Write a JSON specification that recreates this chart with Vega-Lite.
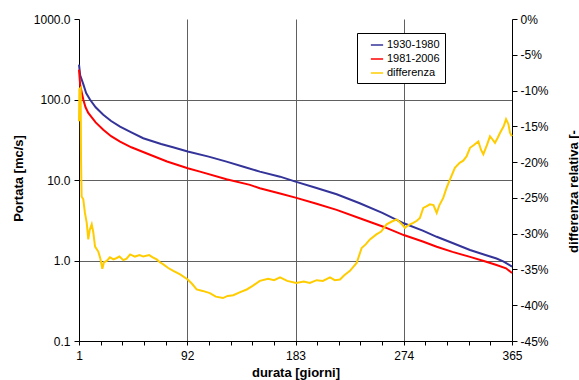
{
  "$schema": "https://vega.github.io/schema/vega-lite/v6.json",
  "width": 433,
  "height": 322,
  "autosize": {"type": "none"},
  "padding": {"left": 79, "top": 19, "right": 67, "bottom": 39},
  "background": "white",
  "config": {
    "font": "Liberation Sans",
    "view": {"stroke": null},
    "axis": {
      "labelFont": "Liberation Sans",
      "titleFont": "Liberation Sans",
      "labelFontSize": 12,
      "labelColor": "black",
      "titleColor": "black",
      "titleFontSize": 13,
      "titleFontWeight": "bold",
      "domainColor": "black",
      "tickColor": "black",
      "gridColor": "#606060",
      "gridWidth": 1
    },
    "legend": {"labelFont": "Liberation Sans"}
  },
  "layer": [
    {
      "data": {
        "values": [
          {"d": 1, "serie": "1930-1980", "v": 271},
          {"d": 2, "serie": "1930-1980", "v": 200},
          {"d": 4.6, "serie": "1930-1980", "v": 155},
          {"d": 7, "serie": "1930-1980", "v": 120},
          {"d": 10.2, "serie": "1930-1980", "v": 100},
          {"d": 15, "serie": "1930-1980", "v": 80},
          {"d": 21.4, "serie": "1930-1980", "v": 64.7},
          {"d": 28, "serie": "1930-1980", "v": 54},
          {"d": 35.5, "serie": "1930-1980", "v": 46},
          {"d": 45, "serie": "1930-1980", "v": 39},
          {"d": 55, "serie": "1930-1980", "v": 33},
          {"d": 70, "serie": "1930-1980", "v": 28},
          {"d": 80, "serie": "1930-1980", "v": 25.5},
          {"d": 92.4, "serie": "1930-1980", "v": 22.6},
          {"d": 110, "serie": "1930-1980", "v": 19.5},
          {"d": 125, "serie": "1930-1980", "v": 16.9},
          {"d": 140, "serie": "1930-1980", "v": 14.5},
          {"d": 153, "serie": "1930-1980", "v": 12.7},
          {"d": 170, "serie": "1930-1980", "v": 11},
          {"d": 183, "serie": "1930-1980", "v": 9.55},
          {"d": 200, "serie": "1930-1980", "v": 8.0},
          {"d": 217.6, "serie": "1930-1980", "v": 6.65},
          {"d": 237, "serie": "1930-1980", "v": 5.14},
          {"d": 256, "serie": "1930-1980", "v": 3.9},
          {"d": 274, "serie": "1930-1980", "v": 2.9},
          {"d": 290, "serie": "1930-1980", "v": 2.35},
          {"d": 301.7, "serie": "1930-1980", "v": 1.97},
          {"d": 315, "serie": "1930-1980", "v": 1.65},
          {"d": 329.7, "serie": "1930-1980", "v": 1.35},
          {"d": 342, "serie": "1930-1980", "v": 1.18},
          {"d": 352, "serie": "1930-1980", "v": 1.06},
          {"d": 358, "serie": "1930-1980", "v": 0.97},
          {"d": 365, "serie": "1930-1980", "v": 0.84},
          {"d": 1, "serie": "1981-2006", "v": 235},
          {"d": 2, "serie": "1981-2006", "v": 150},
          {"d": 4.6, "serie": "1981-2006", "v": 100},
          {"d": 6.5, "serie": "1981-2006", "v": 80},
          {"d": 8.8, "serie": "1981-2006", "v": 68},
          {"d": 15, "serie": "1981-2006", "v": 52},
          {"d": 21.4, "serie": "1981-2006", "v": 42},
          {"d": 28, "serie": "1981-2006", "v": 35},
          {"d": 35.5, "serie": "1981-2006", "v": 30},
          {"d": 45, "serie": "1981-2006", "v": 25.5},
          {"d": 60.7, "serie": "1981-2006", "v": 20.6},
          {"d": 75, "serie": "1981-2006", "v": 17},
          {"d": 92.4, "serie": "1981-2006", "v": 14},
          {"d": 102.7, "serie": "1981-2006", "v": 12.7},
          {"d": 125, "serie": "1981-2006", "v": 10.2},
          {"d": 144.7, "serie": "1981-2006", "v": 8.7},
          {"d": 153, "serie": "1981-2006", "v": 7.9},
          {"d": 170, "serie": "1981-2006", "v": 6.8},
          {"d": 183, "serie": "1981-2006", "v": 6.04},
          {"d": 200, "serie": "1981-2006", "v": 5.1},
          {"d": 217.6, "serie": "1981-2006", "v": 4.25},
          {"d": 237, "serie": "1981-2006", "v": 3.35},
          {"d": 256.8, "serie": "1981-2006", "v": 2.63},
          {"d": 274, "serie": "1981-2006", "v": 2.07},
          {"d": 290, "serie": "1981-2006", "v": 1.72},
          {"d": 301.7, "serie": "1981-2006", "v": 1.48},
          {"d": 315, "serie": "1981-2006", "v": 1.28},
          {"d": 329.7, "serie": "1981-2006", "v": 1.11},
          {"d": 342, "serie": "1981-2006", "v": 0.98},
          {"d": 352, "serie": "1981-2006", "v": 0.88},
          {"d": 360, "serie": "1981-2006", "v": 0.8},
          {"d": 365, "serie": "1981-2006", "v": 0.7}
        ]
      },
      "mark": {"type": "line", "strokeWidth": 2},
      "encoding": {
        "x": {
          "field": "d",
          "type": "quantitative",
          "scale": {"domain": [1, 365], "nice": false, "zero": false},
          "axis": {
            "title": "durata [giorni]",
            "values": [1, 19.2, 37.4, 55.6, 73.8, 92, 110.2, 128.4, 146.6, 164.8, 183, 201.2, 219.4, 237.6, 255.8, 274, 292.2, 310.4, 328.6, 346.8, 365],
            "tickCount": 40,
            "labelExpr": "(abs(datum.value-1)<0.5 || abs(datum.value-92)<0.5 || abs(datum.value-183)<0.5 || abs(datum.value-274)<0.5 || abs(datum.value-365)<0.5) ? datum.label : ''",
            "format": "d",
            "tickSize": 4,
            "labelPadding": 5,
            "labelFlush": false,
            "labelOverlap": false,
            "titleY": 35,
            "titleBaseline": "alphabetic",
            "grid": true,
            "gridOpacity": {"condition": {"test": "abs(datum.value-92)<0.5 || abs(datum.value-183)<0.5 || abs(datum.value-274)<0.5", "value": 1}, "value": 0}
          }
        },
        "y": {
          "field": "v",
          "type": "quantitative",
          "scale": {"type": "log", "domain": [0.1, 1000], "nice": false},
          "axis": {
            "title": "Portata [mc/s]",
            "values": [0.1, 1, 10, 100, 1000],
            "tickCount": 20,
            "format": ".1f",
            "tickSize": 5,
            "labelPadding": 4,
            "labelFlush": false,
            "labelOverlap": false,
            "grid": true,
            "gridOpacity": {"condition": {"test": "datum.value > 500 || datum.value < 0.5", "value": 0}, "value": 1},
            "titleAngle": 270,
            "titleX": -61,
            "titleY": 159,
            "titleAlign": "center",
            "titleBaseline": "middle"
          }
        },
        "color": {
          "field": "serie",
          "type": "nominal",
          "scale": {"domain": ["1930-1980", "1981-2006", "differenza"], "range": ["#333399", "#ff0000", "#ffcc00"]},
          "legend": {
            "title": null,
            "orient": "none",
            "legendX": 278,
            "legendY": 14,
            "direction": "vertical",
            "strokeColor": "black",
            "fillColor": "white",
            "padding": 5,
            "symbolType": "stroke",
            "symbolSize": 150,
            "symbolStrokeWidth": 1.5,
            "symbolOffset": 8,
            "labelFontSize": 11,
            "labelColor": "black",
            "labelOffset": 3,
            "rowPadding": 2
          }
        }
      }
    },
    {
      "data": {
        "values": [
          {"d": 1, "serie": "differenza", "p": -14.3},
          {"d": 1.3, "serie": "differenza", "p": -9.8},
          {"d": 2.4, "serie": "differenza", "p": -9.6},
          {"d": 2.7, "serie": "differenza", "p": -19.6},
          {"d": 3.2, "serie": "differenza", "p": -24.8},
          {"d": 4.6, "serie": "differenza", "p": -25.2},
          {"d": 6, "serie": "differenza", "p": -27.1},
          {"d": 7.5, "serie": "differenza", "p": -28.5},
          {"d": 8.8, "serie": "differenza", "p": -30.8},
          {"d": 10, "serie": "differenza", "p": -29.5},
          {"d": 11.7, "serie": "differenza", "p": -28.7},
          {"d": 13, "serie": "differenza", "p": -29.8},
          {"d": 14.5, "serie": "differenza", "p": -31.8},
          {"d": 17.2, "serie": "differenza", "p": -32.5},
          {"d": 19, "serie": "differenza", "p": -33.5},
          {"d": 20.6, "serie": "differenza", "p": -34.9},
          {"d": 22, "serie": "differenza", "p": -34.0},
          {"d": 24.3, "serie": "differenza", "p": -33.8},
          {"d": 27, "serie": "differenza", "p": -33.3},
          {"d": 30, "serie": "differenza", "p": -33.6},
          {"d": 32.7, "serie": "differenza", "p": -33.4},
          {"d": 35, "serie": "differenza", "p": -33.2},
          {"d": 38.3, "serie": "differenza", "p": -33.7},
          {"d": 41, "serie": "differenza", "p": -33.5},
          {"d": 44, "serie": "differenza", "p": -32.9},
          {"d": 48, "serie": "differenza", "p": -33.2},
          {"d": 52, "serie": "differenza", "p": -33.0},
          {"d": 55, "serie": "differenza", "p": -33.2},
          {"d": 60, "serie": "differenza", "p": -33.0},
          {"d": 63, "serie": "differenza", "p": -33.3},
          {"d": 66.3, "serie": "differenza", "p": -33.6},
          {"d": 69, "serie": "differenza", "p": -34.0},
          {"d": 71.9, "serie": "differenza", "p": -34.3},
          {"d": 76, "serie": "differenza", "p": -34.8},
          {"d": 80.3, "serie": "differenza", "p": -35.2},
          {"d": 86, "serie": "differenza", "p": -35.7},
          {"d": 92.4, "serie": "differenza", "p": -36.4},
          {"d": 96, "serie": "differenza", "p": -37.0},
          {"d": 99.9, "serie": "differenza", "p": -37.8},
          {"d": 105, "serie": "differenza", "p": -38.0},
          {"d": 111, "serie": "differenza", "p": -38.3},
          {"d": 116, "serie": "differenza", "p": -38.8},
          {"d": 122, "serie": "differenza", "p": -39.0},
          {"d": 126, "serie": "differenza", "p": -38.7},
          {"d": 130.7, "serie": "differenza", "p": -38.6},
          {"d": 136, "serie": "differenza", "p": -38.2},
          {"d": 142, "serie": "differenza", "p": -37.8},
          {"d": 147, "serie": "differenza", "p": -37.3},
          {"d": 153, "serie": "differenza", "p": -36.6},
          {"d": 160, "serie": "differenza", "p": -36.3},
          {"d": 165, "serie": "differenza", "p": -36.5},
          {"d": 170, "serie": "differenza", "p": -36.1},
          {"d": 176, "serie": "differenza", "p": -36.6},
          {"d": 183.6, "serie": "differenza", "p": -36.9},
          {"d": 190, "serie": "differenza", "p": -36.7},
          {"d": 195, "serie": "differenza", "p": -36.9},
          {"d": 200.8, "serie": "differenza", "p": -36.5},
          {"d": 206, "serie": "differenza", "p": -36.6},
          {"d": 212, "serie": "differenza", "p": -36.1},
          {"d": 216, "serie": "differenza", "p": -36.5},
          {"d": 220.4, "serie": "differenza", "p": -36.4},
          {"d": 224, "serie": "differenza", "p": -35.8},
          {"d": 228.8, "serie": "differenza", "p": -35.2},
          {"d": 234.4, "serie": "differenza", "p": -34.1},
          {"d": 238.6, "serie": "differenza", "p": -32.0},
          {"d": 242, "serie": "differenza", "p": -31.5},
          {"d": 245.6, "serie": "differenza", "p": -30.8},
          {"d": 251, "serie": "differenza", "p": -30.1},
          {"d": 255, "serie": "differenza", "p": -29.7},
          {"d": 259.6, "serie": "differenza", "p": -28.7},
          {"d": 264, "serie": "differenza", "p": -28.3},
          {"d": 268, "serie": "differenza", "p": -28.0},
          {"d": 272, "serie": "differenza", "p": -28.6},
          {"d": 275, "serie": "differenza", "p": -29.2},
          {"d": 278, "serie": "differenza", "p": -28.8},
          {"d": 282, "serie": "differenza", "p": -28.5},
          {"d": 285, "serie": "differenza", "p": -28.2},
          {"d": 287.6, "serie": "differenza", "p": -27.8},
          {"d": 290.4, "serie": "differenza", "p": -26.4},
          {"d": 293, "serie": "differenza", "p": -26.2},
          {"d": 296, "serie": "differenza", "p": -25.9},
          {"d": 299, "serie": "differenza", "p": -26.0},
          {"d": 301.7, "serie": "differenza", "p": -27.1},
          {"d": 304, "serie": "differenza", "p": -26.0},
          {"d": 307.2, "serie": "differenza", "p": -25.0},
          {"d": 310, "serie": "differenza", "p": -23.6},
          {"d": 312.9, "serie": "differenza", "p": -22.4},
          {"d": 317, "serie": "differenza", "p": -20.8},
          {"d": 321, "serie": "differenza", "p": -20.1},
          {"d": 324, "serie": "differenza", "p": -19.8},
          {"d": 326.8, "serie": "differenza", "p": -19.2},
          {"d": 329.7, "serie": "differenza", "p": -18.0},
          {"d": 333, "serie": "differenza", "p": -17.6},
          {"d": 336.7, "serie": "differenza", "p": -17.1},
          {"d": 339, "serie": "differenza", "p": -18.3},
          {"d": 340.9, "serie": "differenza", "p": -18.9},
          {"d": 344, "serie": "differenza", "p": -17.6},
          {"d": 346.5, "serie": "differenza", "p": -16.4},
          {"d": 348, "serie": "differenza", "p": -16.7},
          {"d": 350.7, "serie": "differenza", "p": -17.3},
          {"d": 353, "serie": "differenza", "p": -16.6},
          {"d": 355, "serie": "differenza", "p": -15.9},
          {"d": 358, "serie": "differenza", "p": -15.0},
          {"d": 360, "serie": "differenza", "p": -14.0},
          {"d": 362, "serie": "differenza", "p": -14.7},
          {"d": 363.3, "serie": "differenza", "p": -15.9},
          {"d": 365, "serie": "differenza", "p": -16.4}
        ]
      },
      "mark": {"type": "line", "strokeWidth": 2},
      "encoding": {
        "x": {"field": "d", "type": "quantitative"},
        "y": {
          "field": "p",
          "type": "quantitative",
          "scale": {"domain": [-45, 0], "nice": false, "zero": false},
          "axis": {
            "orient": "right",
            "title": "differenza relativa [-",
            "values": [-45, -40, -35, -30, -25, -20, -15, -10, -5, 0],
            "tickCount": 20,
            "labelExpr": "datum.value + '%'",
            "tickSize": 5,
            "labelPadding": 3,
            "labelFlush": false,
            "labelOverlap": false,
            "grid": false,
            "titleAngle": 270,
            "titleX": 61,
            "titleY": 172,
            "titleAlign": "center",
            "titleBaseline": "middle"
          }
        },
        "color": {"field": "serie", "type": "nominal"}
      }
    }
  ],
  "resolve": {"scale": {"y": "independent"}}
}
